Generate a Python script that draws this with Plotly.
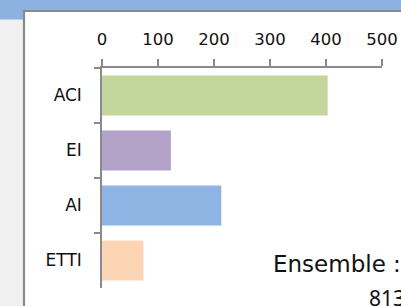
import plotly.graph_objects as go

categories = ["ACI", "EI", "AI", "ETTI"]
values = [403, 123, 213, 74]
colors = ["#c3d69b", "#b3a2c7", "#8eb4e3", "#fcd5b5"]
x_ticks = [0, 100, 200, 300, 400, 500]
total_label = "Ensemble :"
total_value = "813"

W, H = 401, 306
L, R, T, B = 102, 19, 68, 18
pw, ph = W - L - R, H - T - B

def px(x):
    return (x - L) / pw

def py(y):
    return (H - B - y) / ph

fig = go.Figure(
    go.Bar(
        x=values,
        y=categories,
        orientation="h",
        marker=dict(color=colors, line=dict(width=0)),
        hoverinfo="skip",
    )
)

gray = "#8a8a8a"
shapes = [
    # blue band at top
    dict(type="rect", xref="paper", yref="paper", x0=px(-5), x1=px(410), y0=py(19.5), y1=py(-5),
         fillcolor="#8db2e2", line=dict(width=0), layer="below"),
    # white panel with gray border
    dict(type="rect", xref="paper", yref="paper", x0=px(24), x1=px(420), y0=py(330), y1=py(11),
         fillcolor="white", line=dict(color=gray, width=2.2), layer="below"),
]

fig.update_layout(
    width=W, height=H,
    margin=dict(l=L, r=R, t=T, b=B, pad=0, autoexpand=False),
    paper_bgcolor="#f0f0f0",
    plot_bgcolor="rgba(0,0,0,0)",
    showlegend=False,
    bargap=0.27,
    shapes=shapes,
    font=dict(family="DejaVu Sans", color="#111111"),
    xaxis=dict(
        side="top", range=[0, 500], tickvals=x_ticks, showgrid=False, zeroline=False,
        showline=True, linecolor=gray, linewidth=1.5, automargin=False,
        ticks="outside", ticklen=7, tickwidth=1.5, tickcolor=gray,
        tickfont=dict(size=16.5, family="DejaVu Sans", color="#111111"),
        ticklabelstandoff=8,
    ),
    yaxis=dict(
        autorange="reversed", showgrid=False, zeroline=False,
        showline=True, linecolor=gray, linewidth=1.5, automargin=False,
        ticks="outside", ticklen=6, tickwidth=1.5, tickcolor=gray, tickson="boundaries",
        tickfont=dict(size=17, family="DejaVu Sans", color="#111111"),
        ticklabelstandoff=15,
    ),
    annotations=[
        dict(text=total_label, xref="paper", yref="paper", x=px(271), y=py(264),
             xanchor="left", yanchor="middle", showarrow=False,
             font=dict(size=23, family="DejaVu Sans", color="#111111")),
        dict(text=total_value, xref="paper", yref="paper", x=px(367), y=py(298),
             xanchor="left", yanchor="middle", showarrow=False,
             font=dict(size=21, family="Noto Sans", color="#111111")),
    ],
)

fig.write_html(
    "out.html",
    config={"displayModeBar": False},
    post_script="document.body.style.margin='0';document.body.style.overflow='hidden';",
)
